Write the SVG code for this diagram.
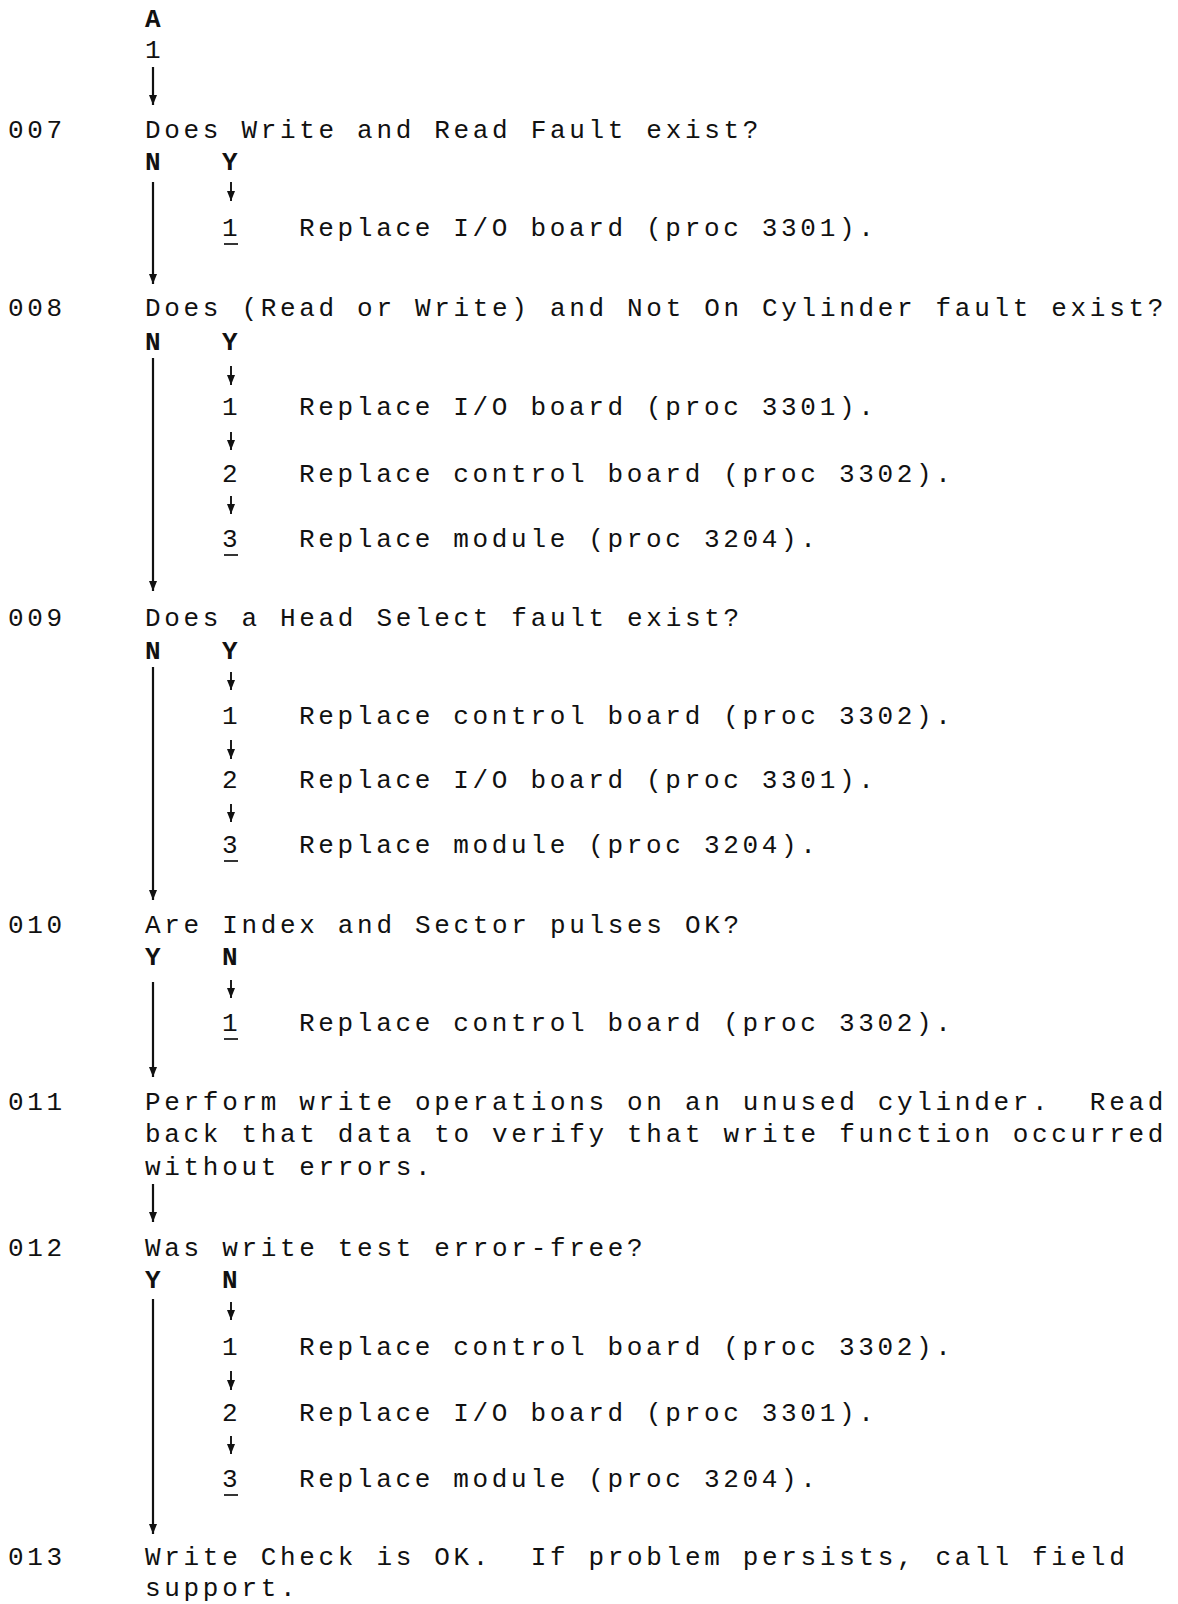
<svg xmlns="http://www.w3.org/2000/svg" width="1178" height="1604" viewBox="0 0 1178 1604">
<style>
text{font-family:"Liberation Mono","DejaVu Sans Mono",monospace;font-size:26px;letter-spacing:3.68px;fill:#111;white-space:pre}
.b{font-weight:bold}
.c line{stroke:#111;stroke-width:2.2;fill:none}
.c line.s{stroke-width:1.9}
.u{stroke:#111;stroke-width:1.7}
</style>
<defs>
<marker id="ah" viewBox="0 0 10 10" refX="10" refY="5" markerWidth="10" markerHeight="10" markerUnits="userSpaceOnUse" orient="auto">
<path d="M0,1 L10,5 L0,9 z" fill="#111"/>
</marker>
</defs>
<rect width="1178" height="1604" fill="#fff"/>

<g id="start">
<text x="145" y="27" class="b">A</text>
<text x="145" y="58">1</text>
</g>

<g id="n007">
<text x="8" y="138">007</text>
<text x="145" y="138">Does Write and Read Fault exist?</text>
<text x="145" y="170" class="b">N</text>
<text x="222" y="170" class="b">Y</text>
</g>
<g id="n007-1">
<text x="222" y="236">1</text>
<line class="u" x1="224" y1="244" x2="238" y2="244"/>
<text x="299" y="236">Replace I/O board (proc 3301).</text>
</g>

<g id="n008">
<text x="8" y="316">008</text>
<text x="145" y="316">Does (Read or Write) and Not On Cylinder fault exist?</text>
<text x="145" y="350" class="b">N</text>
<text x="222" y="350" class="b">Y</text>
</g>
<g id="n008-1"><text x="222" y="415">1</text><text x="299" y="415">Replace I/O board (proc 3301).</text></g>
<g id="n008-2"><text x="222" y="482">2</text><text x="299" y="482">Replace control board (proc 3302).</text></g>
<g id="n008-3"><text x="222" y="547">3</text><line class="u" x1="224" y1="555" x2="238" y2="555"/><text x="299" y="547">Replace module (proc 3204).</text></g>

<g id="n009">
<text x="8" y="626">009</text>
<text x="145" y="626">Does a Head Select fault exist?</text>
<text x="145" y="659" class="b">N</text>
<text x="222" y="659" class="b">Y</text>
</g>
<g id="n009-1"><text x="222" y="724">1</text><text x="299" y="724">Replace control board (proc 3302).</text></g>
<g id="n009-2"><text x="222" y="788">2</text><text x="299" y="788">Replace I/O board (proc 3301).</text></g>
<g id="n009-3"><text x="222" y="853">3</text><line class="u" x1="224" y1="861" x2="238" y2="861"/><text x="299" y="853">Replace module (proc 3204).</text></g>

<g id="n010">
<text x="8" y="933">010</text>
<text x="145" y="933">Are Index and Sector pulses OK?</text>
<text x="145" y="965" class="b">Y</text>
<text x="222" y="965" class="b">N</text>
</g>
<g id="n010-1"><text x="222" y="1031">1</text><line class="u" x1="224" y1="1039" x2="238" y2="1039"/><text x="299" y="1031">Replace control board (proc 3302).</text></g>

<g id="n011">
<text x="8" y="1110">011</text>
<text x="145" y="1110" xml:space="preserve">Perform write operations on an unused cylinder.  Read</text>
<text x="145" y="1142">back that data to verify that write function occurred</text>
<text x="145" y="1175">without errors.</text>
</g>

<g id="n012">
<text x="8" y="1256">012</text>
<text x="145" y="1256">Was write test error-free?</text>
<text x="145" y="1288" class="b">Y</text>
<text x="222" y="1288" class="b">N</text>
</g>
<g id="n012-1"><text x="222" y="1355">1</text><text x="299" y="1355">Replace control board (proc 3302).</text></g>
<g id="n012-2"><text x="222" y="1421">2</text><text x="299" y="1421">Replace I/O board (proc 3301).</text></g>
<g id="n012-3"><text x="222" y="1487">3</text><line class="u" x1="224" y1="1495" x2="238" y2="1495"/><text x="299" y="1487">Replace module (proc 3204).</text></g>

<g id="n013">
<text x="8" y="1565">013</text>
<text x="145" y="1565" xml:space="preserve">Write Check is OK.  If problem persists, call field</text>
<text x="145" y="1596">support.</text>
</g>

<g id="connectors" class="c">
<line x1="153" y1="67" x2="153" y2="105" marker-end="url(#ah)"/>
<line x1="153" y1="182" x2="153" y2="284" marker-end="url(#ah)"/>
<line class="s" x1="231" y1="182" x2="231" y2="201" marker-end="url(#ah)"/>
<line x1="153" y1="358" x2="153" y2="591" marker-end="url(#ah)"/>
<line class="s" x1="231" y1="366" x2="231" y2="385" marker-end="url(#ah)"/>
<line class="s" x1="231" y1="432" x2="231" y2="450" marker-end="url(#ah)"/>
<line class="s" x1="231" y1="496" x2="231" y2="514" marker-end="url(#ah)"/>
<line x1="153" y1="667" x2="153" y2="900" marker-end="url(#ah)"/>
<line class="s" x1="231" y1="672" x2="231" y2="690" marker-end="url(#ah)"/>
<line class="s" x1="231" y1="740" x2="231" y2="759" marker-end="url(#ah)"/>
<line class="s" x1="231" y1="804" x2="231" y2="822" marker-end="url(#ah)"/>
<line x1="153" y1="982" x2="153" y2="1077" marker-end="url(#ah)"/>
<line class="s" x1="231" y1="980" x2="231" y2="998" marker-end="url(#ah)"/>
<line x1="153" y1="1184" x2="153" y2="1222" marker-end="url(#ah)"/>
<line x1="153" y1="1299" x2="153" y2="1534" marker-end="url(#ah)"/>
<line class="s" x1="231" y1="1302" x2="231" y2="1320" marker-end="url(#ah)"/>
<line class="s" x1="231" y1="1371" x2="231" y2="1390" marker-end="url(#ah)"/>
<line class="s" x1="231" y1="1436" x2="231" y2="1454" marker-end="url(#ah)"/>
</g>
</svg>
